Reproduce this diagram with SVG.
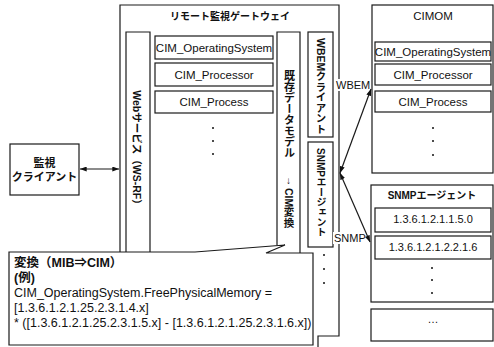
<svg xmlns="http://www.w3.org/2000/svg" width="494" height="347" viewBox="0 0 494 347">
  <style>
    .box { fill: #fff; stroke: #1a1a1a; stroke-width: 1.2; }
    .ln { fill: none; stroke: #1a1a1a; stroke-width: 1.2; }
    .lat { font-family: "Liberation Sans", Arial, sans-serif; fill: #111; }
    .jp { font-family: "Liberation Sans", "Noto Sans CJK JP", sans-serif; fill: #111; }
    .vert { writing-mode: vertical-rl; }
    .dot { fill: #111; }
  </style>
  <defs>
    <marker id="arrow" viewBox="0 0 8 6" refX="8" refY="3" markerWidth="7" markerHeight="5" markerUnits="userSpaceOnUse" orient="auto-start-reverse">
      <path d="M0,0 L8,3 L0,6 z" fill="#111"/>
    </marker>
  </defs>
  <rect width="494" height="347" fill="#fff"/>

  <!-- remote monitoring gateway -->
  <g id="gateway">
    <path class="ln" d="M120,252 V5 H339 V336 H318 V347"/>
    <text class="jp" x="230" y="20" font-size="10" font-weight="bold" text-anchor="middle">リモート監視ゲートウェイ</text>
  </g>

  <g id="gw-webservice">
    <path class="ln" d="M126,252 V32 H150 V252"/>
    <text class="jp" transform="translate(133,150) rotate(90)" font-size="10.5" font-weight="bold" text-anchor="middle">Webサービス（WS-RF）</text>
  </g>

  <g id="gw-cim-os">
    <rect class="box" x="155" y="36" width="118" height="23"/>
    <text class="lat" x="214" y="52" font-size="11.5" text-anchor="middle">CIM_OperatingSystem</text>
  </g>
  <g id="gw-cim-processor">
    <rect class="box" x="155" y="63" width="118" height="23"/>
    <text class="lat" x="214" y="79" font-size="11.5" text-anchor="middle">CIM_Processor</text>
  </g>
  <g id="gw-cim-process">
    <rect class="box" x="155" y="91" width="118" height="22"/>
    <text class="lat" x="214" y="106" font-size="11.5" text-anchor="middle">CIM_Process</text>
  </g>
  <g id="gw-cim-more">
    <circle class="dot" cx="213" cy="128" r="1"/>
    <circle class="dot" cx="213" cy="141" r="1"/>
    <circle class="dot" cx="213" cy="154" r="1"/>
  </g>

  <g id="gw-datamodel">
    <path class="ln" d="M277,245 V32 H300 V253"/>
    <text class="jp vert" x="288.5" y="70" font-size="11" font-weight="bold">既存データモデル</text>
    <text class="jp" x="288.5" y="184" font-size="10" font-weight="bold" text-anchor="middle">↓</text>
    <text class="jp vert" x="288.5" y="188" font-size="10.5" font-weight="bold">CIM変換</text>
  </g>

  <g id="gw-wbem-client">
    <rect class="box" x="308" y="32" width="25" height="105"/>
    <text class="jp vert" x="320.5" y="38" font-size="10.5" font-weight="bold">WBEMクライアント</text>
  </g>

  <g id="gw-snmp-manager">
    <rect class="box" x="308" y="142" width="25" height="105"/>
    <text class="jp vert" x="320.5" y="148" font-size="10" font-weight="bold">SNMPエージェント</text>
  </g>

  <g id="gw-more">
    <circle class="dot" cx="324" cy="255" r="1"/>
    <circle class="dot" cx="324" cy="269" r="1"/>
    <circle class="dot" cx="324" cy="283" r="1"/>
  </g>

  <!-- monitoring client -->
  <g id="client">
    <rect class="box" x="10" y="144" width="69" height="51"/>
    <text class="jp" x="44.5" y="167" font-size="11" font-weight="bold" text-anchor="middle">監視</text>
    <text class="jp" x="44.5" y="181" font-size="11" font-weight="bold" text-anchor="middle">クライアント</text>
  </g>

  <!-- CIMOM -->
  <g id="cimom">
    <rect class="box" x="372" y="5" width="121" height="168"/>
    <text class="lat" x="433" y="20" font-size="11.5" text-anchor="middle">CIMOM</text>
  </g>
  <g id="cimom-os">
    <rect class="box" x="375" y="42" width="116" height="19"/>
    <text class="lat" x="433" y="56" font-size="11.5" text-anchor="middle">CIM_OperatingSystem</text>
  </g>
  <g id="cimom-processor">
    <rect class="box" x="375" y="64" width="116" height="21"/>
    <text class="lat" x="433" y="79" font-size="11.5" text-anchor="middle">CIM_Processor</text>
  </g>
  <g id="cimom-process">
    <rect class="box" x="375" y="91" width="116" height="21"/>
    <text class="lat" x="433" y="106" font-size="11.5" text-anchor="middle">CIM_Process</text>
  </g>
  <g id="cimom-more">
    <circle class="dot" cx="433" cy="128" r="1"/>
    <circle class="dot" cx="433" cy="141" r="1"/>
    <circle class="dot" cx="433" cy="155" r="1"/>
  </g>

  <!-- SNMP agent -->
  <g id="snmp-agent">
    <rect class="box" x="371" y="185" width="122" height="117"/>
    <text class="jp" x="432" y="199" font-size="10" font-weight="bold" text-anchor="middle">SNMPエージェント</text>
  </g>
  <g id="oid-sysname">
    <rect class="box" x="375" y="208" width="116" height="24"/>
    <text class="lat" x="433" y="223" font-size="11" text-anchor="middle">1.3.6.1.2.1.1.5.0</text>
  </g>
  <g id="oid-ifaddr">
    <rect class="box" x="375" y="236" width="116" height="23"/>
    <text class="lat" x="433" y="251" font-size="11" text-anchor="middle">1.3.6.1.2.1.2.2.1.6</text>
  </g>
  <g id="oid-more">
    <circle class="dot" cx="432" cy="268" r="1"/>
    <circle class="dot" cx="432" cy="280" r="1"/>
    <circle class="dot" cx="432" cy="293" r="1"/>
  </g>

  <g id="other-agents">
    <rect class="box" x="371" y="309" width="122" height="32"/>
    <text class="lat" x="433" y="323" font-size="11" text-anchor="middle">…</text>
  </g>

  <!-- connectors -->
  <g id="connectors">
    <line class="ln" x1="80" y1="169" x2="119" y2="169" marker-start="url(#arrow)" marker-end="url(#arrow)"/>
    <line class="ln" x1="340" y1="173" x2="371" y2="89" marker-start="url(#arrow)" marker-end="url(#arrow)"/>
    <line class="ln" x1="340" y1="173" x2="370" y2="242" marker-start="url(#arrow)" marker-end="url(#arrow)"/>
    <rect x="335" y="79" width="33" height="12" fill="#fff"/>
    <text class="lat" x="336" y="89" font-size="11">WBEM</text>
    <rect x="333" y="232" width="31" height="12" fill="#fff"/>
    <text class="lat" x="334" y="242" font-size="11">SNMP</text>
  </g>

  <!-- conversion note callout -->
  <g id="conversion-note">
    <path class="box" d="M9,345 V252 H195 L285,245 L266,253 H313 V345 Z"/>
    <text class="jp" x="14" y="267" font-size="12.5" font-weight="bold">変換（MIB⇒CIM）</text>
    <text class="jp" x="14" y="282" font-size="12.5" font-weight="bold">(例)</text>
    <text class="lat" x="14" y="297" font-size="12.5">CIM_OperatingSystem.FreePhysicalMemory =</text>
    <text class="lat" x="14" y="312" font-size="12.5">[1.3.6.1.2.1.25.2.3.1.4.x]</text>
    <text class="lat" x="14" y="327" font-size="12.5">* ([1.3.6.1.2.1.25.2.3.1.5.x] - [1.3.6.1.2.1.25.2.3.1.6.x])</text>
  </g>
</svg>
